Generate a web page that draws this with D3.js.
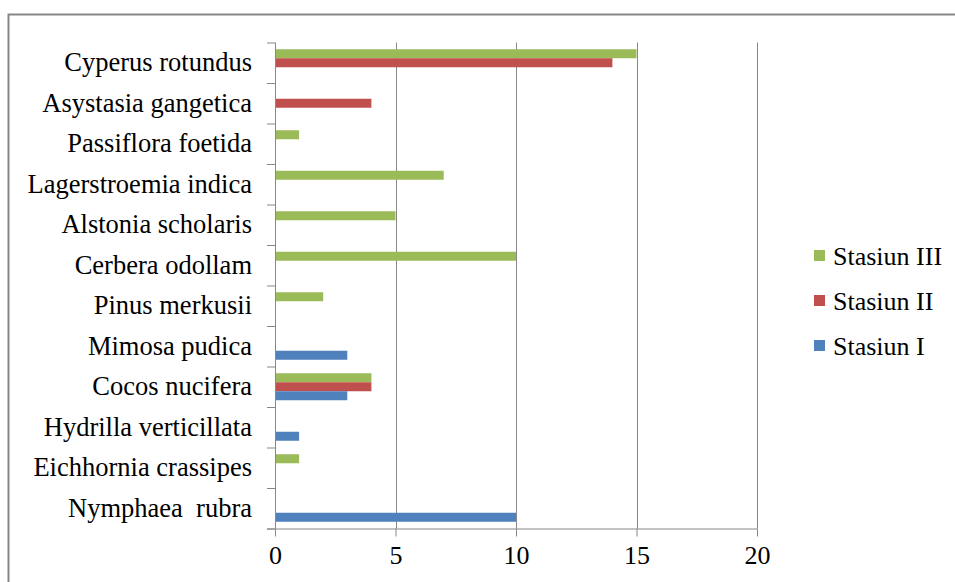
<!DOCTYPE html>
<html>
<head>
<meta charset="utf-8">
<script src="https://cdn.jsdelivr.net/npm/d3@7"></script>
<style>
  html, body { margin: 0; padding: 0; background: #fff; }
  svg { display: block; }
</style>
</head>
<body>
<svg id="chart" width="955" height="582"></svg>
<script>
// Species, listed top to bottom
const species = [
  "Cyperus rotundus",
  "Asystasia gangetica",
  "Passiflora foetida",
  "Lagerstroemia indica",
  "Alstonia scholaris",
  "Cerbera odollam",
  "Pinus merkusii",
  "Mimosa pudica",
  "Cocos nucifera",
  "Hydrilla verticillata",
  "Eichhornia crassipes",
  "Nymphaea  rubra"
];

// Counts per station, same order as species
const stasiunI   = [0, 0, 0, 0, 0, 0, 0, 3, 3, 1, 0, 10];
const stasiunII  = [14, 4, 0, 0, 0, 0, 0, 0, 4, 0, 0, 0];
const stasiunIII = [15, 0, 1, 7, 5, 10, 2, 0, 4, 0, 1, 0];

const seriesNames = ["Stasiun III", "Stasiun II", "Stasiun I"];
const seriesValues = [stasiunIII, stasiunII, stasiunI];
const seriesColors = ["#9BBB59", "#C0504D", "#4F81BD"];

const xTicks = [0, 5, 10, 15, 20];

const FONT = "'Liberation Serif', 'Times New Roman', serif";
const svg = d3.select("#chart");
const gridColor = "#878787";

const plot = { left: 275, right: 757, top: 42.5, bottom: 528.5 };

const x = d3.scaleLinear().domain([0, 20]).range([plot.left, plot.right]);
const y = d3.scaleBand().domain(species).range([plot.top, plot.bottom]).paddingInner(0).paddingOuter(0);
const inner = d3.scaleBand().domain(seriesNames)
  .range([0, y.bandwidth()]).paddingInner(0).paddingOuter(0.75);

// Outer chart frame
svg.append("rect")
  .attr("x", 8.5).attr("y", 14.5)
  .attr("width", 1000).attr("height", 1000)
  .attr("fill", "none").attr("stroke", gridColor).attr("stroke-width", 2);

// Vertical gridlines
svg.append("g").selectAll("line")
  .data(xTicks.filter(d => d > 0))
  .join("line")
  .attr("x1", d => Math.round(x(d)) + 0.5).attr("x2", d => Math.round(x(d)) + 0.5)
  .attr("y1", plot.top).attr("y2", plot.bottom)
  .attr("stroke", gridColor).attr("stroke-width", 1);

// Bars
const rows = species.map((s, i) => ({ s, i }));
seriesNames.forEach((name, k) => {
  svg.append("g").selectAll("rect")
    .data(rows.filter(r => seriesValues[k][r.i] > 0))
    .join("rect")
    .attr("x", x(0))
    .attr("y", r => y(r.s) + inner(name))
    .attr("width", r => x(seriesValues[k][r.i]) - x(0))
    .attr("height", inner.bandwidth())
    .attr("fill", seriesColors[k]);
});

// Bottom axis
const xAxis = svg.append("g")
  .attr("transform", `translate(0,${plot.bottom})`)
  .call(d3.axisBottom(x).tickValues(xTicks).tickSize(8).tickPadding(8).tickSizeOuter(0));
xAxis.attr("font-family", null).attr("font-size", null);
xAxis.select(".domain").attr("stroke", gridColor).attr("d", `M${plot.left - 8},0.5H${plot.right}`);
xAxis.selectAll(".tick line").attr("stroke", gridColor);
xAxis.selectAll(".tick text")
  .attr("fill", "#000")
  .style("font-family", FONT)
  .style("font-size", "26px")
  .attr("dy", "0.75em");

// Left axis line with boundary ticks
const yAxis = svg.append("g");
yAxis.append("line")
  .attr("x1", plot.left + 0.5).attr("x2", plot.left + 0.5)
  .attr("y1", plot.top).attr("y2", plot.bottom)
  .attr("stroke", gridColor);
const bounds = species.map(s => y(s)).concat([y(species[species.length - 1]) + y.bandwidth()]);
yAxis.selectAll("line.tk")
  .data(bounds)
  .join("line").attr("class", "tk")
  .attr("x1", plot.left - 8).attr("x2", plot.left)
  .attr("y1", d => d + 0.5).attr("y2", d => d + 0.5)
  .attr("stroke", gridColor);

// Category labels
svg.append("g").selectAll("text")
  .data(species)
  .join("text")
  .attr("x", 252)
  .attr("y", d => y(d) + y.bandwidth() / 2)
  .attr("dy", "0.33em")
  .attr("text-anchor", "end")
  .attr("fill", "#000")
  .style("font-family", FONT)
  .style("font-size", "26.5px")
  .style("white-space", "pre")
  .text(d => d);

// Legend
const legend = svg.append("g").selectAll("g")
  .data(seriesNames)
  .join("g")
  .attr("transform", (d, i) => `translate(814,${256 + i * 45})`);
legend.append("rect")
  .attr("x", 0).attr("y", -6).attr("width", 11).attr("height", 11)
  .attr("fill", (d, i) => seriesColors[i]);
legend.append("text")
  .attr("x", 19).attr("y", 0).attr("dy", "0.33em")
  .attr("fill", "#000")
  .style("font-family", FONT)
  .style("font-size", "26px")
  .text(d => d);
</script>
</body>
</html>
